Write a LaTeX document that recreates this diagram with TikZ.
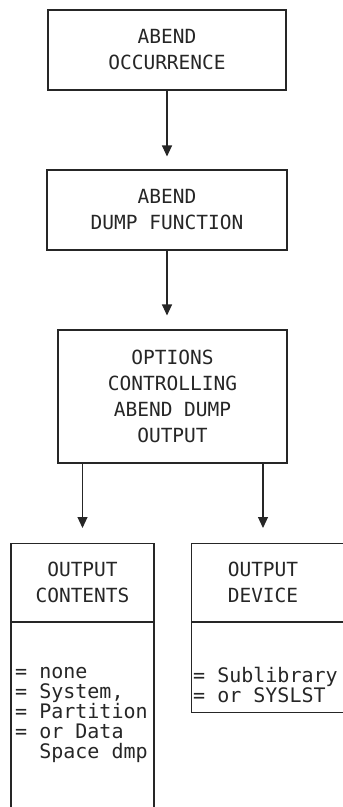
\documentclass[tikz,border=0pt]{standalone}
\usepackage{fontspec}
\setmonofont{DejaVu Sans Mono}
\usetikzlibrary{arrows.meta}

\begin{document}
\begin{tikzpicture}[x=1pt, y=-1pt, >={Triangle[length=11pt,width=10pt]},
    every node/.style={font=\ttfamily\fontsize{19.5}{26}\selectfont, text=black!85},
    box/.style={draw=black!85, line width=1.1pt, align=center, inner sep=0pt},
    frame/.style={draw=black!85, line width=1.1pt, inner sep=0pt},
    head/.style={align=center, inner sep=0pt},
    items/.style={align=left, inner sep=0pt, anchor=north west,
                  font=\ttfamily\fontsize{20}{20}\selectfont},
    link/.style={->, draw=black!85, line width=1.1pt}]
  \clip (0,0) rectangle (343,807);
  % main chain
  \node[box, minimum width=238pt, minimum height=80pt] (occur) at (167,50) {ABEND\\OCCURRENCE};
  \node[box, minimum width=240pt, minimum height=80pt] (dumpfn) at (167,210) {ABEND\\DUMP FUNCTION};
  \node[box, minimum width=229pt, minimum height=133pt] (options) at (172.5,396.5) {OPTIONS\\CONTROLLING\\ABEND DUMP\\OUTPUT};
  \draw[link, shorten >=13pt] (occur) -- (dumpfn);
  \draw[link, shorten >=14pt] (dumpfn.south) -- (dumpfn.south |- options.north);
  % output contents (runs off the bottom)
  \node[frame, minimum width=143pt, minimum height=300pt, anchor=north] (contents) at (82.5,543) {};
  \node[head] (contentshead) at (82.5,582.5) {OUTPUT\\CONTENTS};
  \draw[frame] ([yshift=-79pt]contents.north west) -- ([yshift=-79pt]contents.north east);
  \node[items] (contentslist) at (15,667) {= none\\= System,\\= Partition\\= or Data\\\phantom{= }Space dmp};
  % output device (runs off the right)
  \node[frame, minimum width=170pt, minimum height=169pt, anchor=north west] (device) at (191,543) {};
  \node[head] (devicehead) at (263,582.5) {OUTPUT\\DEVICE};
  \draw[frame] ([yshift=-79pt]device.north west) -- ([yshift=-79pt]device.north east);
  \node[items] (devicelist) at (193,667) {= Sublibrary\\= or SYSLST};
  \draw[link, shorten >=15pt] (options.south -| contents) -- (contents);
  \draw[link, shorten >=15pt] (options.south -| devicehead) -- (devicehead |- device.north);
\end{tikzpicture}
\end{document}
